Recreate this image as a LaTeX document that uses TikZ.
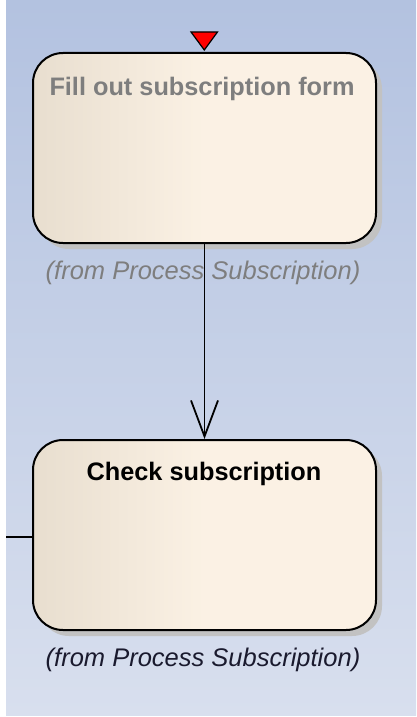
\documentclass[tikz,border=0pt]{standalone}
\usepackage{fontspec}
\setmainfont{Liberation Sans}
\usetikzlibrary{arrows.meta,shadows}
\definecolor{bgtop}{HTML}{B3C2E0}
\definecolor{bgbot}{HTML}{D8DFEE}
\definecolor{boxleft}{HTML}{E8DECF}
\definecolor{boxright}{HTML}{FBF1E4}
\definecolor{shadowgray}{HTML}{C2C2C2}
\definecolor{fadedtext}{HTML}{7E7E7E}
\definecolor{notetext}{HTML}{1A1A2E}
\tikzset{
  activity/.style={draw=black, line width=2pt, rounded corners=30pt,
    minimum width=343pt, minimum height=190pt, inner sep=0pt,
    left color=boxleft, right color=boxright, middle color=boxright,
    drop shadow={shadow xshift=6pt, shadow yshift=-6pt, fill=shadowgray, opacity=1}},
  title/.style={font=\fontsize{25.3}{30}\selectfont\bfseries, anchor=center},
  origin/.style={font=\fontsize{25.5}{30}\selectfont\itshape, anchor=center},
  flow/.style={line width=1.8pt, -{Straight Barb[length=36pt, width=27pt, line width=1.8pt]}},
}
\begin{document}
\begin{tikzpicture}[x=1pt, y=-1pt]
  % page and gradient background
  \fill[white] (0,0) rectangle (416,717);
  \shade[top color=bgtop, bottom color=bgbot] (6,0) rectangle (416,715);
  \useasboundingbox (0,0) rectangle (416,717);

  % activities
  \node[activity] (fill) at (204.5,148) {};
  \node[activity] (check) at (204.5,535) {};

  \node[title, text=fadedtext] (filltitle) at (202,89) {Fill out subscription form};
  \node[title, text=black] (checktitle) at (204,474) {Check subscription};

  \node[origin, text=fadedtext] (fillfrom) at (203,273) {(from Process Subscription)};
  \node[origin, text=notetext] (checkfrom) at (203,660) {(from Process Subscription)};

  % entry marker on the first activity
  \fill[red, draw=black, line width=1.2pt, line join=miter]
    (191,32) -- (217.5,32) -- (204.3,50) -- cycle;

  % control flow
  \draw[flow] (fill.south) -- (check.north);

  % incoming flow from the left
  \coordinate (leftin) at (6,537);
  \draw[line width=1.8pt] (leftin) -- (check.west |- leftin);
\end{tikzpicture}
\end{document}
